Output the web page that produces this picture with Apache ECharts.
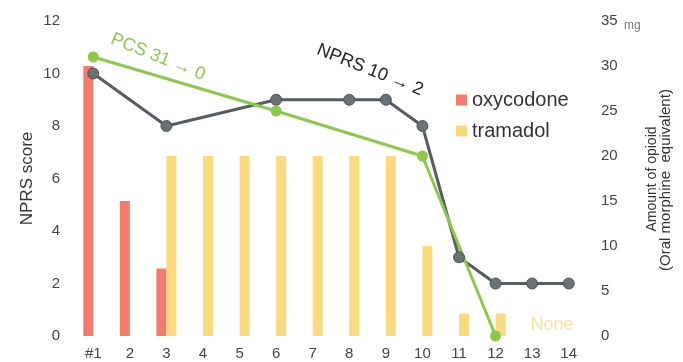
<!DOCTYPE html>
<html>
<head>
<meta charset="utf-8">
<script src="https://cdn.jsdelivr.net/npm/echarts@6/dist/echarts.min.js"></script>
<style>html,body{margin:0;padding:0;background:#fff;}#c{width:683px;height:362px;}</style>
</head>
<body>
<div id="c"></div>
<script>
const categories = ['#1','2','3','4','5','6','7','8','9','10','11','12','13','14'];
const oxycodone = [30, 15, 7.5, null, null, null, null, null, null, null, null, null, null, null];
const tramadol = [null, null, 20, 20, 20, 20, 20, 20, 20, 10, 2.5, 2.5, null, null];
const nprs = [10, null, 8, null, null, 9, null, 9, 9, 8, 3, 2, 2, 2];
const pcs = [31, null, null, null, null, 25, null, null, null, 20, null, 0, null, null];
const leftTicks = [0, 2, 4, 6, 8, 10, 12];
const rightTicks = [0, 5, 10, 15, 20, 25, 30, 35];

const FONT = 'Liberation Sans, Arial, sans-serif';
const chart = echarts.init(document.getElementById('c'), null, {renderer: 'canvas'});
chart.setOption({
  animation: false,
  backgroundColor: '#fff',
  textStyle: {fontFamily: FONT},
  grid: {left: 75, right: 96, top: 21, bottom: 26},
  legend: {
    data: ['oxycodone', 'tramadol'],
    orient: 'vertical', left: 451, top: 85,
    itemWidth: 11, itemHeight: 11, itemGap: 11,
    icon: 'rect',
    textStyle: {fontSize: 20, color: '#333', fontFamily: FONT}
  },
  xAxis: {
    type: 'category', data: categories,
    axisLine: {show: false}, axisTick: {show: false},
    axisLabel: {fontSize: 15, color: '#444', margin: 10}
  },
  yAxis: [
    {
      type: 'value', min: leftTicks[0], max: leftTicks[leftTicks.length-1], interval: 2,
      name: 'NPRS score', nameLocation: 'middle', nameGap: 39, nameMoveOverlap: false,
      nameTextStyle: {fontSize: 17, color: '#333'},
      splitLine: {show: false}, axisLine: {show: false}, axisTick: {show: false},
      axisLabel: {fontSize: 15, color: '#444', margin: 15}
    },
    {
      type: 'value', min: rightTicks[0], max: rightTicks[rightTicks.length-1], interval: 5,
      splitLine: {show: false}, axisLine: {show: false}, axisTick: {show: false},
      axisLabel: {fontSize: 15, color: '#444', margin: 14}
    }
  ],
  series: [
    {name: 'oxycodone', type: 'bar', yAxisIndex: 1, data: oxycodone, barWidth: 10, barGap: '0%',
     itemStyle: {color: '#f47a6c'}},
    {name: 'tramadol', type: 'bar', yAxisIndex: 1, data: tramadol, barWidth: 10, barGap: '0%',
     itemStyle: {color: '#fcd97c'}},
    {name: 'NPRS', type: 'line', yAxisIndex: 0, data: nprs, connectNulls: true,
     symbol: 'circle', symbolSize: 11,
     lineStyle: {color: '#565d62', width: 3},
     itemStyle: {color: '#6b7276', borderColor: '#4e5559', borderWidth: 1}},
    {name: 'PCS', type: 'line', yAxisIndex: 1, data: pcs, connectNulls: true,
     symbol: 'circle', symbolSize: 11,
     lineStyle: {color: '#8cc84b', width: 3},
     itemStyle: {color: '#8cc84b'}}
  ],
  graphic: [
    {type: 'text', x: 158, y: 57, rotation: -0.38,
     style: {text: 'PCS 31 \u2192 0', fill: '#8cc84b', font: '18px ' + FONT, textAlign: 'center', textVerticalAlign: 'middle'}},
    {type: 'text', x: 370, y: 70, rotation: -0.38,
     style: {text: 'NPRS 10 \u2192 2', fill: '#222', font: '18px ' + FONT, textAlign: 'center', textVerticalAlign: 'middle'}},
    {type: 'text', x: 552, y: 325,
     style: {text: 'None', fill: '#fce39a', font: '18px ' + FONT, textAlign: 'center', textVerticalAlign: 'middle'}},
    {type: 'text', x: 624, y: 26,
     style: {text: 'mg', fill: '#777', font: '12px ' + FONT, textAlign: 'left', textVerticalAlign: 'middle'}},
    {type: 'text', x: 652, y: 179, rotation: Math.PI/2,
     style: {text: 'Amount of opioid', fill: '#333', font: '14px ' + FONT, textAlign: 'center', textVerticalAlign: 'middle'}},
    {type: 'text', x: 666, y: 180, rotation: Math.PI/2,
     style: {text: '(Oral morphine  equivalent)', fill: '#333', font: '15px ' + FONT, textAlign: 'center', textVerticalAlign: 'middle'}}
  ]
});
</script>
</body>
</html>
